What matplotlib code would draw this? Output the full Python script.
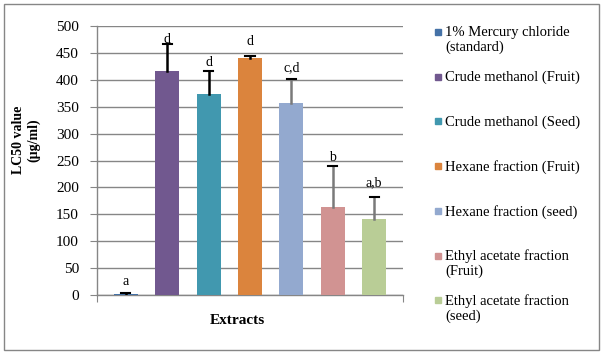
import matplotlib
matplotlib.use('Agg')
import numpy as np
from matplotlib import pyplot as plt
from matplotlib.patches import Rectangle

# Values
extracts = ['1% Mercury chloride\n(standard)', 'Crude methanol (Fruit)', 'Crude methanol (Seed)',
            'Hexane fraction (Fruit)', 'Hexane fraction (seed)', 'Ethyl acetate fraction\n(Fruit)',
            'Ethyl acetate fraction\n(seed)']
lc50 = [2, 416, 374, 441, 357, 164, 141]
lc50_err = [1, 50, 42, 3, 45, 76, 41]
groups = ['a', 'd', 'd', 'd', 'c,d', 'b', 'a,b']
group_y = [26, 474, 433, 472, 422, 255, 208]

colors = ['#4572A7', '#71588F', '#4198AF', '#DB843D', '#93A9CF', '#D19392', '#B9CD96']
err_colors = ['black', 'black', 'black', 'black', '#7a7a7a', '#7a7a7a', '#7a7a7a']

plt.rcParams['font.family'] = 'Liberation Serif'
plt.rcParams['font.size'] = 10

W, H = 606, 356
fig = plt.figure(figsize=(W / 100, H / 100), dpi=100)
ax = fig.add_axes([97 / W, 1 - 295 / H, (403 - 97) / W, (295 - 26) / H])

x = np.arange(len(lc50))
ax.bar(x, lc50, width=0.58, color=colors, zorder=3)
for xi, v, e, ec in zip(x, lc50, lc50_err, err_colors):
    # one-sided error bar: stem + cap on top only
    ax.plot([xi, xi], [v, v + e], color=ec, lw=1.8, zorder=4)
    ax.plot([xi - 0.11, xi + 0.11], [v + e, v + e], color='black', lw=1.5, zorder=5)
for xi, g, gy in zip(x, groups, group_y):
    ax.text(xi, gy, g, ha='center', va='center', fontsize=10)

ax.set_xlim(-0.70, 6.70)
ax.set_ylim(0, 500)
ax.set_yticks(np.arange(0, 501, 50))
ax.set_xticks([-0.70, 6.70])
ax.set_xticklabels(['', ''])
ax.tick_params(axis='y', length=5, color='#868686', pad=8, labelsize=11)
ax.tick_params(axis='x', length=5, color='#868686')
ax.grid(axis='y', color='#868686', lw=1, zorder=0)
for s in ['top', 'right']:
    ax.spines[s].set_visible(False)
for s in ['left', 'bottom']:
    ax.spines[s].set_color('#868686')
    ax.spines[s].set_linewidth(1)

fig.text(26 / W, 1 - 140 / H, 'LC50 value\n(µg/ml)', rotation=90, ha='center', va='center',
         fontsize=10, fontweight='bold', linespacing=1.2)
fig.text(237 / W, 1 - 321 / H, 'Extracts', ha='center', va='center', fontsize=11, fontweight='bold')

# manual legend, like the Excel one
for i, (lab, c) in enumerate(zip(extracts, colors)):
    y = 32 + i * 44.7
    fig.patches.append(Rectangle((435 / W, 1 - (y + 3) / H), 6 / W, 6 / H, color=c,
                                 transform=fig.transFigure))
    fig.text(445 / W, 1 - (y - 6) / H, lab, ha='left', va='top', fontsize=10.5, linespacing=1.15)

fig.patches.append(Rectangle((4 / W, 1 - 350 / H), 595 / W, 346 / H, fill=False,
                             edgecolor='#868686', lw=1, transform=fig.transFigure))

plt.savefig('out.png', dpi=100)
